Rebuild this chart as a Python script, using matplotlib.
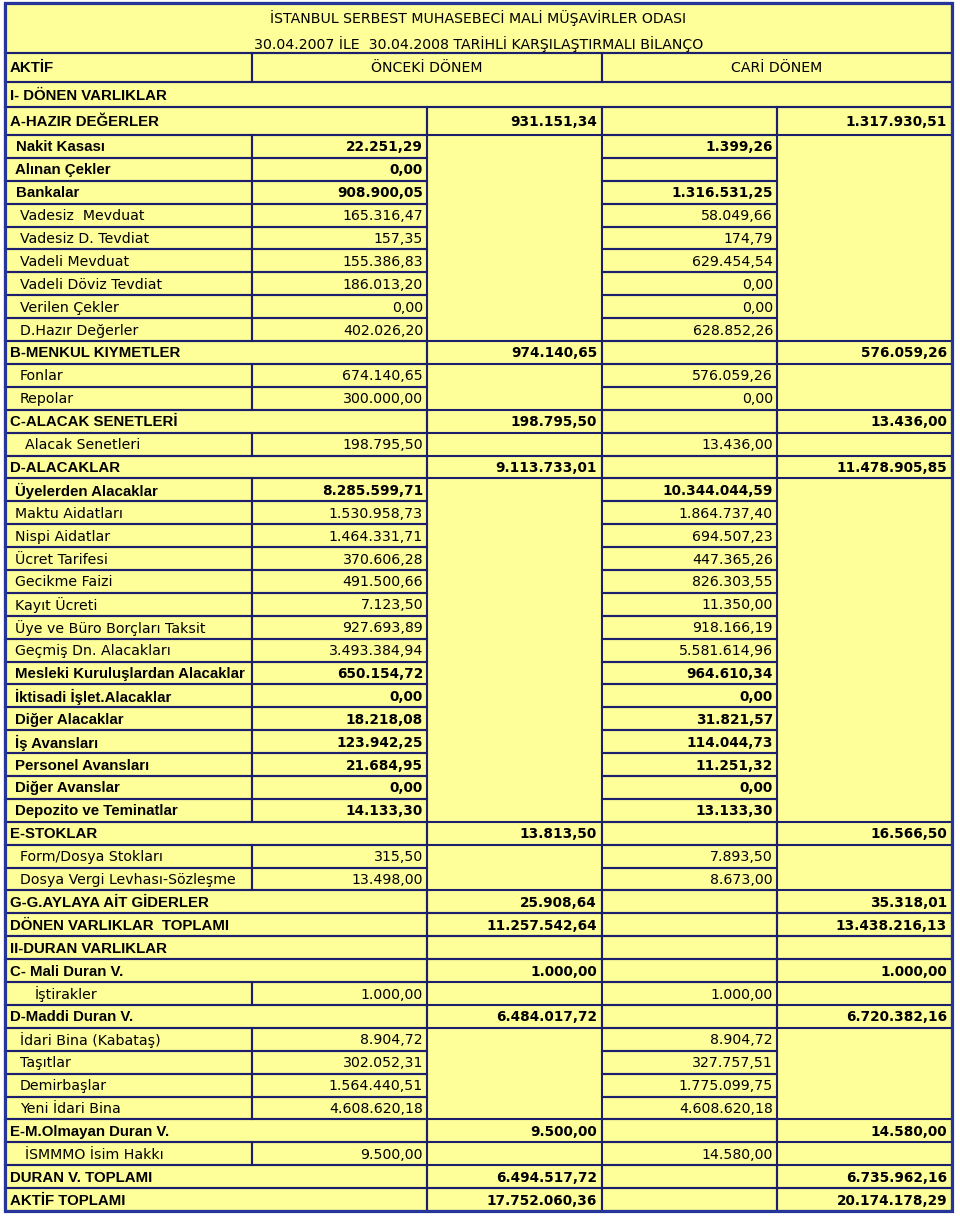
import matplotlib
matplotlib.use("Agg")
import matplotlib.pyplot as plt
from matplotlib.patches import Rectangle

plt.rcParams['font.family'] = ['DejaVu Sans']

title_1 = "İSTANBUL SERBEST MUHASEBECİ MALİ MÜŞAVİRLER ODASI"
title_2 = "30.04.2007 İLE  30.04.2008 TARİHLİ KARŞILAŞTIRMALI BİLANÇO"
head_labels = ["AKTİF", "ÖNCEKİ DÖNEM", "CARİ DÖNEM"]
group_label = "I- DÖNEN VARLIKLAR"

# rows below "I- DÖNEN VARLIKLAR"
labels = [
    "A-HAZIR DEĞERLER", "Nakit Kasası", "Alınan Çekler", "Bankalar",
    "Vadesiz  Mevduat", "Vadesiz D. Tevdiat", "Vadeli Mevduat",
    "Vadeli Döviz Tevdiat", "Verilen Çekler", "D.Hazır Değerler",
    "B-MENKUL KIYMETLER", "Fonlar", "Repolar",
    "C-ALACAK SENETLERİ", "Alacak Senetleri",
    "D-ALACAKLAR", "Üyelerden Alacaklar", "Maktu Aidatları", "Nispi Aidatlar",
    "Ücret Tarifesi", "Gecikme Faizi", "Kayıt Ücreti",
    "Üye ve Büro Borçları Taksit", "Geçmiş Dn. Alacakları",
    "Mesleki Kuruluşlardan Alacaklar", "İktisadi İşlet.Alacaklar",
    "Diğer Alacaklar", "İş Avansları", "Personel Avansları", "Diğer Avanslar",
    "Depozito ve Teminatlar",
    "E-STOKLAR", "Form/Dosya Stokları", "Dosya Vergi Levhası-Sözleşme",
    "G-G.AYLAYA AİT GİDERLER", "DÖNEN VARLIKLAR  TOPLAMI",
    "II-DURAN VARLIKLAR", "C- Mali Duran V.", "İştirakler",
    "D-Maddi Duran V.", "İdari Bina (Kabataş)", "Taşıtlar", "Demirbaşlar",
    "Yeni İdari Bina", "E-M.Olmayan Duran V.", "İSMMMO İsim Hakkı",
    "DURAN V. TOPLAMI", "AKTİF TOPLAMI",
]
# s = section row (totals), b = bold detail, d = detail
kinds = [
    "s", "b", "b", "b", "d", "d", "d", "d", "d", "d",
    "s", "d", "d",
    "s", "d",
    "s", "b", "d", "d", "d", "d", "d", "d", "d",
    "b", "b", "b", "b", "b", "b", "b",
    "s", "d", "d",
    "s", "s",
    "s", "s", "d",
    "s", "d", "d", "d", "d", "s", "d",
    "s", "s",
]
onceki = [
    931151.34, 22251.29, 0.00, 908900.05, 165316.47, 157.35, 155386.83,
    186013.20, 0.00, 402026.20,
    974140.65, 674140.65, 300000.00,
    198795.50, 198795.50,
    9113733.01, 8285599.71, 1530958.73, 1464331.71, 370606.28, 491500.66,
    7123.50, 927693.89, 3493384.94,
    650154.72, 0.00, 18218.08, 123942.25, 21684.95, 0.00, 14133.30,
    13813.50, 315.50, 13498.00,
    25908.64, 11257542.64,
    None, 1000.00, 1000.00,
    6484017.72, 8904.72, 302052.31, 1564440.51, 4608620.18, 9500.00, 9500.00,
    6494517.72, 17752060.36,
]
cari = [
    1317930.51, 1399.26, None, 1316531.25, 58049.66, 174.79, 629454.54,
    0.00, 0.00, 628852.26,
    576059.26, 576059.26, 0.00,
    13436.00, 13436.00,
    11478905.85, 10344044.59, 1864737.40, 694507.23, 447365.26, 826303.55,
    11350.00, 918166.19, 5581614.96,
    964610.34, 0.00, 31821.57, 114044.73, 11251.32, 0.00, 13133.30,
    16566.50, 7893.50, 8673.00,
    35318.01, 13438216.13,
    None, 1000.00, 1000.00,
    6720382.16, 8904.72, 327757.51, 1775099.75, 4608620.18, 14580.00, 14580.00,
    6735962.16, 20174178.29,
]
# left padding of the label text, pixels
indent = [
    5, 11, 10, 11, 15, 15, 15, 15, 15, 15,
    5, 15, 15,
    5, 20,
    5, 10, 10, 10, 10, 10, 10, 10, 10, 10, 10, 10, 10, 10, 10, 10,
    5, 15, 15,
    5, 5,
    5, 5, 30,
    5, 15, 15, 15, 15, 5, 20,
    5, 5,
]


def fmt(v):
    s = f"{v:,.2f}"
    return s.replace(",", "#").replace(".", ",").replace("#", ".")


W, H = 960, 1223
fig = plt.figure(figsize=(W / 100, H / 100), dpi=100)
ax = fig.add_axes([0, 0, 1, 1])
ax.set_xlim(0, W)
ax.set_ylim(H, 0)
ax.axis("off")

fill = "#ffff99"
line = "#1c1f6c"
outer = "#25359a"
fs = 10.2        # regular text
fs_bl = 10.8     # bold labels (Liberation Sans, narrower than DejaVu bold)
fs_bn = 9.8      # bold numbers
bold_font = ["Liberation Sans", "DejaVu Sans"]
lw = 1.5
va = "center_baseline"

# column edges
xa, xb, xc, xd, xe, xf = 5, 252, 427, 602, 777, 952
top, bottom = 3, 1211
y_head = [top, 53, 82, 107, 135]
row_h = (bottom - y_head[-1]) / len(labels[1:])

ax.add_patch(Rectangle((xa, top), xf - xa, bottom - top, facecolor=fill, edgecolor="none", zorder=0))


def cell(x0, x1, y0, y1):
    ax.add_patch(Rectangle((x0, y0), x1 - x0, y1 - y0, fill=False, edgecolor=line, lw=lw, zorder=2))


bl_kw = dict(fontsize=fs_bl, fontweight="bold", family=bold_font)

# title block
cell(xa, xf, y_head[0], y_head[1])
ax.text((xa + xf) / 2, 16.5, title_1, ha="center", va=va, fontsize=fs)
ax.text((xa + xf) / 2, 42.5, title_2, ha="center", va=va, fontsize=fs)

# AKTIF / ÖNCEKİ / CARİ header
y0, y1 = y_head[1], y_head[2]
for x0, x1 in [(xa, xb), (xb, xd), (xd, xf)]:
    cell(x0, x1, y0, y1)
ym = (y0 + y1) / 2 - 0.5
ax.text(xa + 5, ym, head_labels[0], ha="left", va=va, **bl_kw)
ax.text((xb + xd) / 2, ym, head_labels[1], ha="center", va=va, fontsize=fs)
ax.text((xd + xf) / 2, ym, head_labels[2], ha="center", va=va, fontsize=fs)

# I- DÖNEN VARLIKLAR
y0, y1 = y_head[2], y_head[3]
cell(xa, xf, y0, y1)
ax.text(xa + 5, (y0 + y1) / 2 - 0.5, group_label, ha="left", va=va, **bl_kw)

for i, (lab, kind, v1, v2) in enumerate(zip(labels, kinds, onceki, cari)):
    if i == 0:
        y0, y1 = y_head[3], y_head[4]
    else:
        y0 = y_head[4] + (i - 1) * row_h
        y1 = y0 + row_h
    ym = (y0 + y1) / 2 - 0.5
    if kind == "s":
        for x0, x1 in [(xa, xc), (xc, xd), (xd, xe), (xe, xf)]:
            cell(x0, x1, y0, y1)
        pos = (xd - 5, xf - 5)
    else:
        for x0, x1 in [(xa, xb), (xb, xc), (xd, xe)]:
            cell(x0, x1, y0, y1)
        pos = (xc - 4, xe - 4)
    if kind == "d":
        lab_kw = dict(fontsize=fs)
        num_kw = dict(fontsize=fs)
    else:
        lab_kw = bl_kw
        num_kw = dict(fontsize=fs_bn, fontweight="bold")
    ax.text(xa + indent[i], ym, lab, ha="left", va=va, **lab_kw)
    for v, x in zip((v1, v2), pos):
        if v is not None:
            ax.text(x, ym, fmt(v), ha="right", va=va, **num_kw)

# thick outer frame
ax.add_patch(Rectangle((xa, top), xf - xa, bottom - top, fill=False, edgecolor=outer, lw=2.3, zorder=3))

fig.savefig("out.png", dpi=100)
